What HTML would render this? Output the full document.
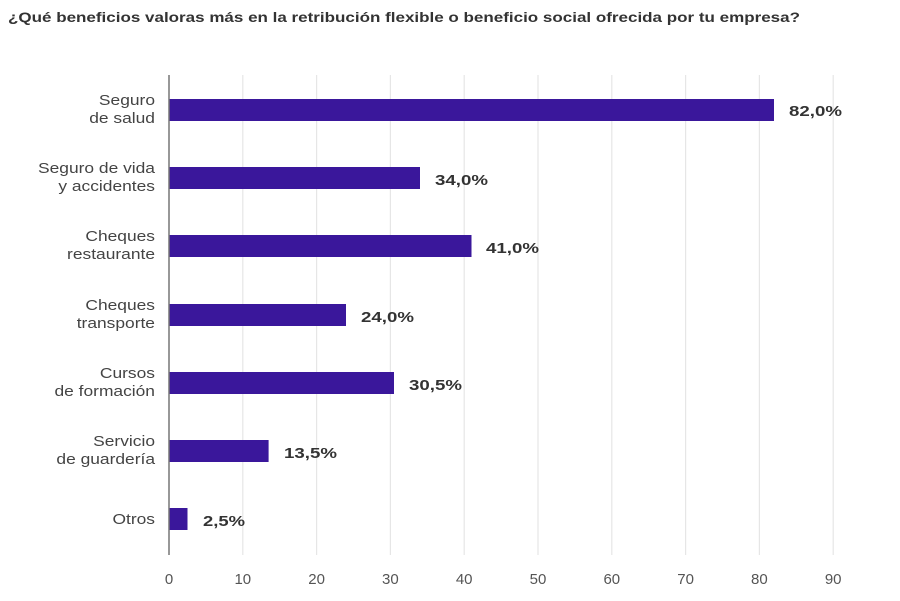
<!DOCTYPE html>
<html><head><meta charset="utf-8"><style>
html,body{margin:0;padding:0;background:#fff;}
svg{display:block;font-family:"Liberation Sans",sans-serif;}
</style></head><body>
<svg width="900" height="601" viewBox="0 0 900 601">
<text x="8" y="22" font-size="14" font-weight="bold" fill="#333" textLength="792" lengthAdjust="spacingAndGlyphs">¿Qué beneficios valoras más en la retribución flexible o beneficio social ofrecida por tu empresa?</text>
<g stroke="#e6e6e6" stroke-width="1.2">
<line x1="242.8" y1="75" x2="242.8" y2="555"/><line x1="316.6" y1="75" x2="316.6" y2="555"/>
<line x1="390.4" y1="75" x2="390.4" y2="555"/><line x1="464.2" y1="75" x2="464.2" y2="555"/>
<line x1="538" y1="75" x2="538" y2="555"/><line x1="611.8" y1="75" x2="611.8" y2="555"/>
<line x1="685.6" y1="75" x2="685.6" y2="555"/><line x1="759.4" y1="75" x2="759.4" y2="555"/>
<line x1="833.2" y1="75" x2="833.2" y2="555"/>
</g>
<g fill="#3a179b">
<rect x="169" y="99" width="605" height="22"/>
<rect x="169" y="167" width="251" height="22"/>
<rect x="169" y="235" width="302.5" height="22"/>
<rect x="169" y="304" width="177" height="22"/>
<rect x="169" y="372" width="225" height="22"/>
<rect x="169" y="440" width="99.6" height="22"/>
<rect x="169" y="508" width="18.5" height="22"/>
</g>
<line x1="169" y1="75" x2="169" y2="555" stroke="#777" stroke-width="1.5"/>
<g font-size="14.5" fill="#444" text-anchor="end" transform="translate(155,0) scale(1.2,1) translate(-155,0)">
<text x="155" y="105">Seguro</text><text x="155" y="123">de salud</text>
<text x="155" y="173">Seguro de vida</text><text x="155" y="191">y accidentes</text>
<text x="155" y="241">Cheques</text><text x="155" y="259">restaurante</text>
<text x="155" y="310">Cheques</text><text x="155" y="328">transporte</text>
<text x="155" y="378">Cursos</text><text x="155" y="396">de formación</text>
<text x="155" y="446">Servicio</text><text x="155" y="464">de guardería</text>
<text x="155" y="524">Otros</text>
</g>
<g font-size="14.5" font-weight="bold" fill="#333">
<text x="789" y="116" textLength="53" lengthAdjust="spacingAndGlyphs">82,0%</text>
<text x="435" y="185" textLength="53" lengthAdjust="spacingAndGlyphs">34,0%</text>
<text x="486" y="253" textLength="53" lengthAdjust="spacingAndGlyphs">41,0%</text>
<text x="361" y="322" textLength="53" lengthAdjust="spacingAndGlyphs">24,0%</text>
<text x="409" y="390" textLength="53" lengthAdjust="spacingAndGlyphs">30,5%</text>
<text x="284" y="458" textLength="53" lengthAdjust="spacingAndGlyphs">13,5%</text>
<text x="203" y="526" textLength="42" lengthAdjust="spacingAndGlyphs">2,5%</text>
</g>
<g font-size="15" fill="#555" text-anchor="middle">
<text x="169" y="584">0</text><text x="242.8" y="584">10</text><text x="316.6" y="584">20</text>
<text x="390.4" y="584">30</text><text x="464.2" y="584">40</text><text x="538" y="584">50</text>
<text x="611.8" y="584">60</text><text x="685.6" y="584">70</text><text x="759.4" y="584">80</text>
<text x="833.2" y="584">90</text>
</g>
</svg>
</body></html>
